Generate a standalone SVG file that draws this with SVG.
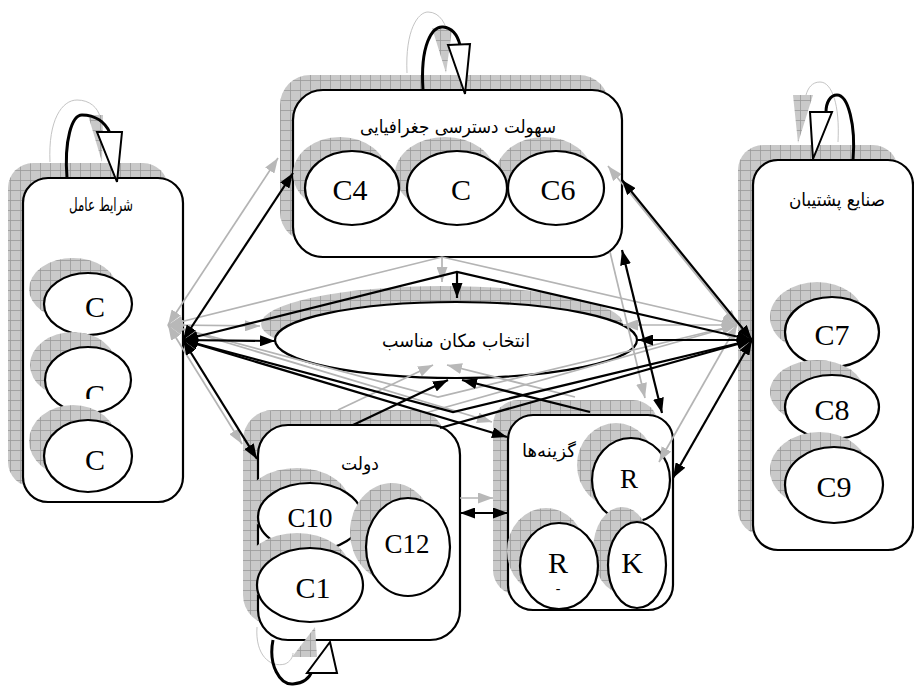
<svg xmlns="http://www.w3.org/2000/svg" width="914" height="686" viewBox="0 0 914 686">
<style>
.box{fill:#fff;stroke:#000;stroke-width:2.2}
.sh{fill:url(#h);stroke:none}
.el{fill:#fff;stroke:#000;stroke-width:2.2}
.fa{font-family:"DejaVu Sans",sans-serif;font-size:18px;text-anchor:middle;fill:#000}
.lat{font-family:"Liberation Serif","Times New Roman",serif;font-size:30px;text-anchor:middle;fill:#000}
.sm{font-size:27px}
.k{fill:none;stroke:#000;stroke-width:2.2}
.g{fill:none;stroke:#b4b4b4;stroke-width:1.7}
.kd{marker-start:url(#a);marker-end:url(#a)}
.ke{marker-end:url(#a)}
.gd{marker-start:url(#ag);marker-end:url(#ag)}
.ge{marker-end:url(#ag)}
.loop{fill:none;stroke:#000;stroke-width:3}
.gloop{fill:none;stroke:#c4c4c4;stroke-width:1}
.tri{fill:#fff;stroke:#000;stroke-width:2}
.gtri{fill:url(#h);stroke:none}
</style>
<defs>
<pattern id="h" width="10" height="10" patternUnits="userSpaceOnUse">
<rect width="10" height="10" fill="#c9c9c9"/>
<path d="M0,0.5H10M0.5,0V10" stroke="#999" stroke-width="0.8"/>
</pattern>
<marker id="a" viewBox="0 0 15 11" refX="15" refY="5.5" markerWidth="15" markerHeight="11" orient="auto-start-reverse" markerUnits="userSpaceOnUse">
<path d="M0,0L15,5.5L0,11z" fill="#000"/>
</marker>
<marker id="ag" viewBox="0 0 15 11" refX="15" refY="5.5" markerWidth="15" markerHeight="11" orient="auto-start-reverse" markerUnits="userSpaceOnUse">
<path d="M0,0L15,5.5L0,11z" fill="#b8b8b8"/>
</marker>
<clipPath id="clipC2"><rect x="40" y="340" width="100" height="59"/></clipPath>
</defs>

<g id="node-top">
<rect class="sh" x="280" y="75" width="329" height="167" rx="30"/>
<rect class="box" x="293" y="90" width="329" height="167" rx="30"/>
<text class="fa" x="458" y="133" textLength="196" lengthAdjust="spacingAndGlyphs">سهولت دسترسی جغرافیایی</text>
<ellipse class="sh" cx="340" cy="174" rx="47" ry="37"/>
<ellipse class="sh" cx="445" cy="174" rx="50" ry="37"/>
<ellipse class="sh" cx="544" cy="174" rx="48" ry="37"/>
<ellipse class="el" cx="352" cy="188" rx="47" ry="37"/>
<ellipse class="el" cx="457" cy="188" rx="50" ry="37"/>
<ellipse class="el" cx="556" cy="188" rx="48" ry="37"/>
<text class="lat" x="350" y="200">C4</text>
<text class="lat" x="461" y="200">C</text>
<text class="lat" x="558" y="200">C6</text>
</g>

<g id="node-left">
<rect class="sh" x="8" y="163" width="160" height="324" rx="25"/>
<rect class="box" x="23" y="178" width="160" height="324" rx="25"/>
<text class="fa" x="101" y="211" textLength="64" lengthAdjust="spacingAndGlyphs">شرايط عامل</text>
<ellipse class="sh" cx="73" cy="289" rx="44" ry="31"/>
<ellipse class="el" cx="88" cy="304" rx="44" ry="31"/>
<ellipse class="sh" cx="73" cy="365" rx="43" ry="33"/>
<ellipse class="el" cx="88" cy="380" rx="43" ry="33"/>
<ellipse class="sh" cx="73" cy="441" rx="44" ry="36"/>
<ellipse class="el" cx="88" cy="456" rx="44" ry="36"/>
<text class="lat" x="95" y="317">C</text>
<text class="lat" x="95" y="405" clip-path="url(#clipC2)">C</text>
<text class="lat" x="95" y="470">C</text>
</g>

<g id="node-right">
<rect class="sh" x="738" y="145" width="160" height="390" rx="25"/>
<rect class="box" x="753" y="160" width="160" height="390" rx="25"/>
<text class="fa" x="837" y="206" textLength="96" lengthAdjust="spacingAndGlyphs">صنایع پشتیبان</text>
<ellipse class="sh" cx="817" cy="317" rx="47" ry="35"/>
<ellipse class="el" cx="832" cy="332" rx="47" ry="35"/>
<ellipse class="sh" cx="817" cy="392" rx="47" ry="32"/>
<ellipse class="el" cx="832" cy="407" rx="47" ry="32"/>
<ellipse class="sh" cx="819" cy="470" rx="49" ry="38"/>
<ellipse class="el" cx="834" cy="485" rx="49" ry="38"/>
<text class="lat" x="832" y="345">C7</text>
<text class="lat" x="832" y="420">C8</text>
<text class="lat" x="834" y="497">C9</text>
</g>

<g id="node-center">
<ellipse class="sh" cx="442" cy="324" rx="181" ry="38"/>
<ellipse class="el" cx="456" cy="340" rx="181" ry="38"/>
<text class="fa" x="456" y="347" textLength="148" lengthAdjust="spacingAndGlyphs">انتخاب مکان مناسب</text>
</g>

<g id="node-dolat">
<rect class="sh" x="243" y="410" width="202" height="215" rx="30"/>
<rect class="box" x="258" y="425" width="202" height="215" rx="30"/>
<text class="fa" x="360" y="470" textLength="38" lengthAdjust="spacingAndGlyphs">دولت</text>
<ellipse class="sh" cx="297" cy="502" rx="52" ry="34"/>
<ellipse class="el" cx="310" cy="517" rx="52" ry="34"/>
<ellipse class="sh" cx="297" cy="570" rx="53" ry="37"/>
<ellipse class="el" cx="310" cy="585" rx="53" ry="37"/>
<ellipse class="sh" cx="392" cy="532" rx="42" ry="49"/>
<ellipse class="el" cx="408" cy="547" rx="42" ry="49"/>
<text class="lat sm" x="310" y="527">C10</text>
<text class="lat" x="313" y="598">C1</text>
<text class="lat sm" x="407" y="553">C12</text>
</g>

<g id="node-gozineh">
<rect class="sh" x="493" y="400" width="165" height="195" rx="25"/>
<rect class="box" x="508" y="415" width="165" height="195" rx="25"/>
<ellipse class="sh" cx="616" cy="465" rx="39" ry="42"/>
<text class="fa" x="549" y="457" textLength="54" lengthAdjust="spacingAndGlyphs">گزینه‌ها</text>
<ellipse class="el" cx="631" cy="480" rx="39" ry="42"/>
<ellipse class="sh" cx="546" cy="551" rx="39" ry="43"/>
<ellipse class="sh" cx="622" cy="550" rx="29" ry="43"/>
<ellipse class="el" cx="559" cy="566" rx="39" ry="43"/>
<ellipse class="el" cx="637" cy="565" rx="29" ry="43"/>
<text class="lat sm" x="629" y="488">R</text>
<text class="lat" x="558" y="573">R</text>
<text class="lat" x="558" y="593" style="font-size:14px">-</text>
<text class="lat" x="632" y="573">K</text>
</g>

<g id="connectors">
<g id="shadow-connectors">
<path class="g gd" d="M168,325L278,158"/>
<path class="g gd" d="M168,325L260,326"/>
<path class="g gd" d="M168,325L242,444"/>
<path class="g gd" d="M168,325L492,422"/>
<path class="g gd" d="M168,325L442,257L737,325"/>
<path class="g ge" d="M442,257L442,282"/>
<path class="g gd" d="M168,325L438,397L737,325"/>
<path class="g ge" d="M338,410L433,365"/>
<path class="g ge" d="M575,397L447,365"/>
<path class="g ge" d="M425,413L737,325"/>
<path class="g gd" d="M737,325L623,325"/>
<path class="g gd" d="M737,325L608,166"/>
<path class="g gd" d="M737,325L659,462"/>
<path class="g ge" d="M610,252L645,398"/>
<path class="g ge" d="M460,498L493,498"/>
</g>
<g id="main-connectors">
<path class="k kd" d="M183,340L293,173"/>
<path class="k kd" d="M183,340L275,341"/>
<path class="k kd" d="M183,340L257,459"/>
<path class="k kd" d="M183,340L507,437"/>
<path class="k kd" d="M183,340L457,272L752,340"/>
<path class="k ke" d="M457,272L457,298"/>
<path class="k kd" d="M183,340L453,412L752,340"/>
<path class="k ke" d="M353,425L448,380"/>
<path class="k ke" d="M590,412L462,380"/>
<path class="k ke" d="M440,428L752,340"/>
<path class="k kd" d="M752,340L638,340"/>
<path class="k kd" d="M752,340L622,180"/>
<path class="k kd" d="M752,340L673,478"/>
<path class="k kd" d="M622,250L662,413"/>
<path class="k kd" d="M460,513L508,513"/>
</g>
<g id="self-loops">
<path class="gloop" d="M407,73C405,30 418,12 428,12C440,12 447,25 447,35"/>
<polygon class="gtri" points="432,28 452,30 446,73"/>
<path class="loop" d="M423,90C420,45 432,26 443,27C453,28 458,37 460,45"/>
<polygon class="tri" points="448,45 470,44 465,94"/>

<path class="gloop" d="M50,162C48,120 62,100 77,100C90,100 98,108 100,117"/>
<polygon class="gtri" points="88,115 103,115 102,162"/>
<path class="loop" d="M67,178C64,140 72,115 82,115C95,115 105,122 110,133"/>
<polygon class="tri" points="97,132 122,132 117,182"/>

<path class="gloop" d="M838,142C840,105 832,82 820,82C812,82 808,88 806,95"/>
<polygon class="gtri" points="793,95 813,95 798,143"/>
<path class="loop" d="M853,160C856,125 848,95 837,95C830,95 826,103 826,112"/>
<polygon class="tri" points="810,112 832,112 813,159"/>

<path class="gloop" d="M257,627C255,655 270,668 285,664C290,662 293,657 293,653"/>
<polygon class="gtri" points="315,627 317,657 292,657"/>
<path class="loop" d="M273,640C268,665 280,685 293,684C305,683 310,677 312,671"/>
<polygon class="tri" points="330,642 337,673 307,673"/>
</g>
</g>
</svg>
